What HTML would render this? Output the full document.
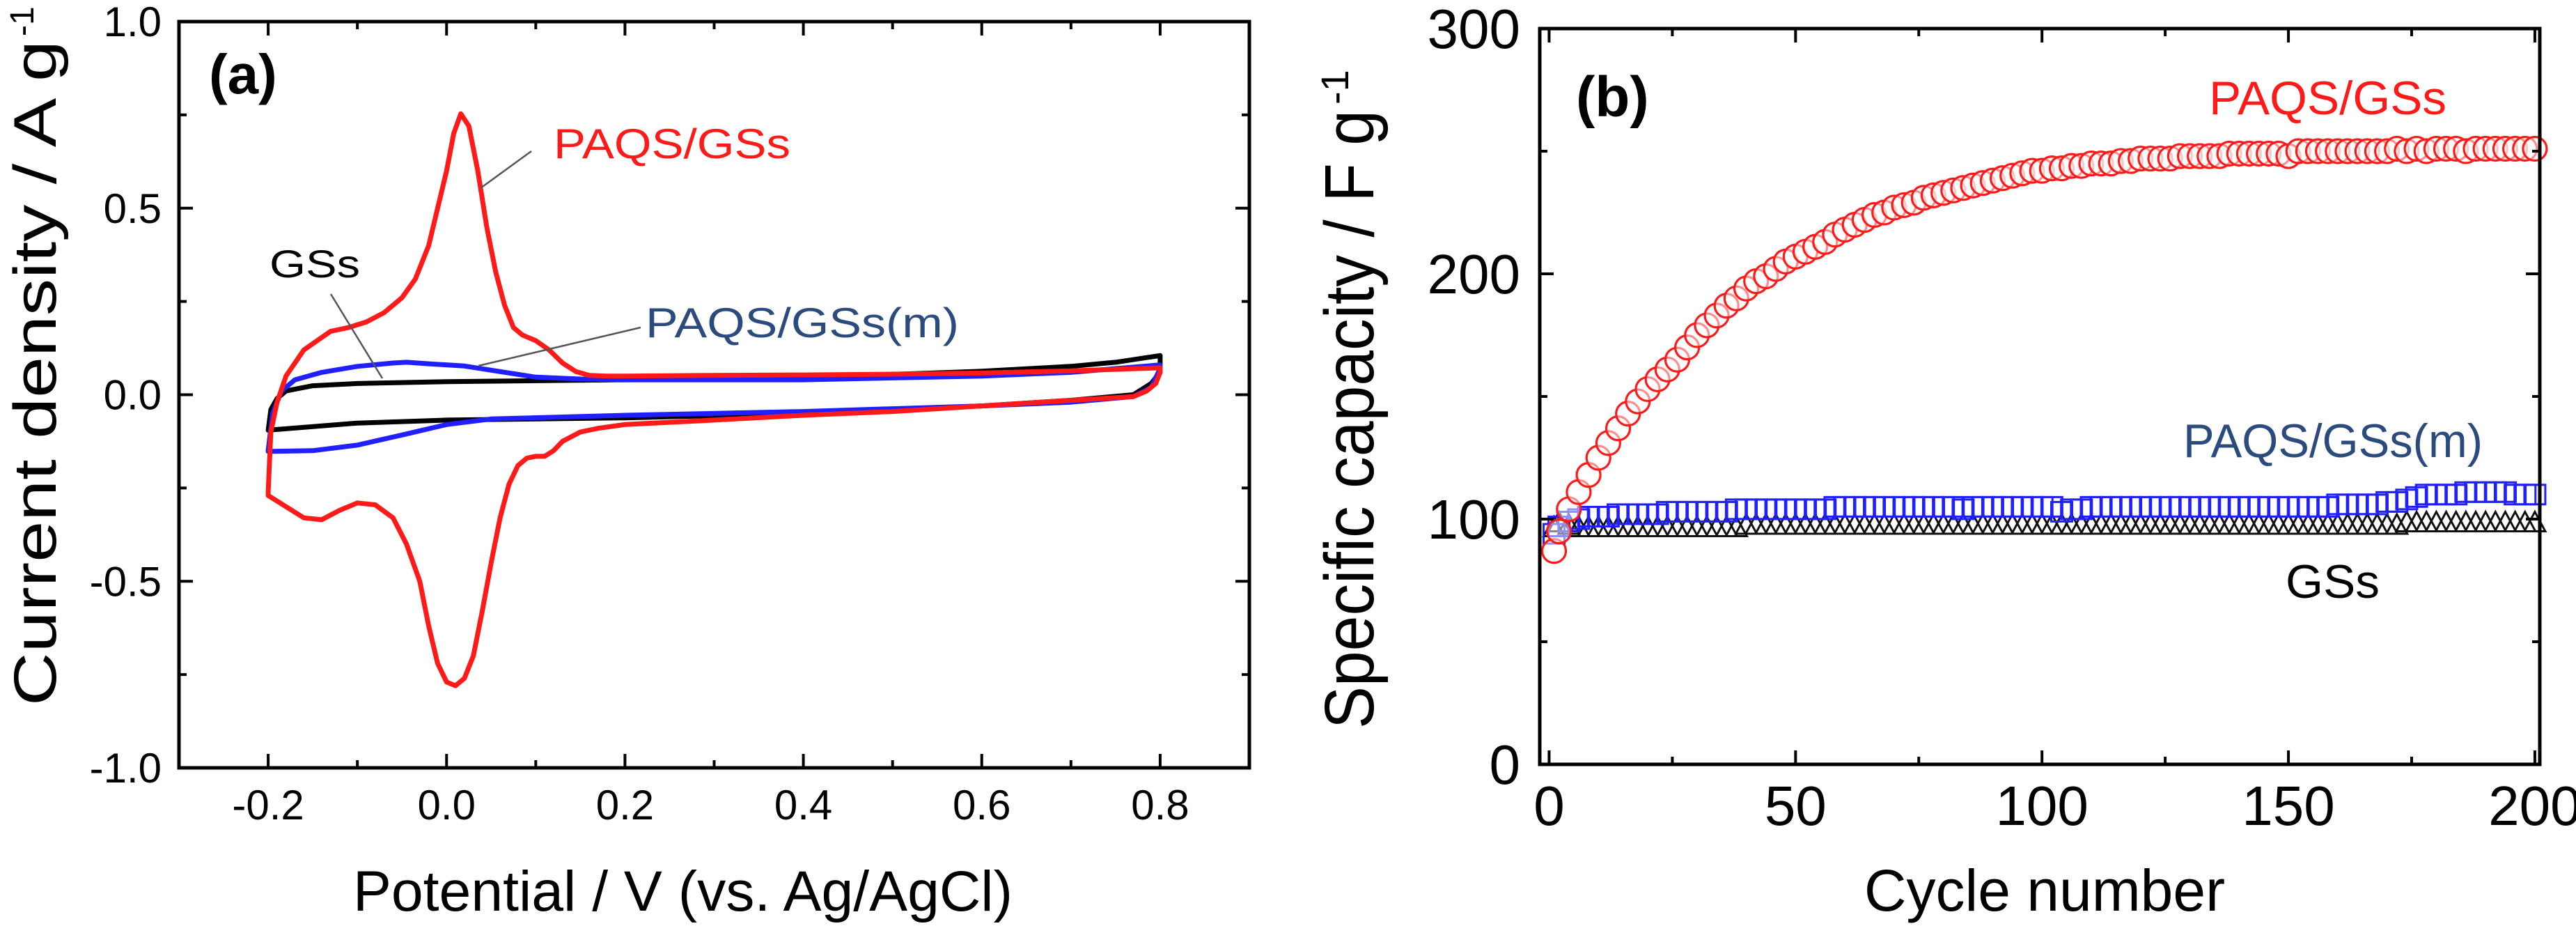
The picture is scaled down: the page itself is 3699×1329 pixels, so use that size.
<!DOCTYPE html>
<html><head><meta charset="utf-8"><style>
html,body{margin:0;padding:0;background:#fff;}
svg{display:block;font-family:"Liberation Sans",Arial,sans-serif;}
</style></head><body>
<svg id="fig" width="3699" height="1329" viewBox="0 0 3699 1329" xmlns="http://www.w3.org/2000/svg">
<rect width="3699" height="1329" fill="#fff"/>
<g id="pa"></g>
<g id="pb"></g>
</svg>
<script>
// ---------- Panel (a) data ----------
const cvRedV = [-0.2,-0.197,-0.19,-0.18,-0.16,-0.13,-0.11,-0.09,-0.07,-0.05,-0.035,-0.02,-0.01,0.0,0.008,0.016,0.025,0.035,0.045,0.055,0.065,0.075,0.085,0.1,0.115,0.13,0.145,0.16,0.18,0.2,0.3,0.4,0.5,0.6,0.7,0.8,0.8,0.795,0.785,0.77,0.7,0.6,0.5,0.4,0.3,0.2,0.17,0.15,0.13,0.12,0.11,0.1,0.09,0.08,0.07,0.06,0.05,0.04,0.03,0.02,0.01,0.0,-0.01,-0.02,-0.03,-0.045,-0.06,-0.08,-0.1,-0.12,-0.14,-0.16,-0.18,-0.2,-0.2];
const cvRedI = [-0.26,-0.1,-0.02,0.05,0.12,0.17,0.18,0.195,0.22,0.26,0.31,0.4,0.5,0.6,0.7,0.753,0.72,0.6,0.45,0.33,0.24,0.18,0.16,0.145,0.12,0.085,0.062,0.052,0.05,0.05,0.052,0.053,0.055,0.058,0.064,0.072,0.06,0.03,0.01,-0.005,-0.015,-0.03,-0.045,-0.055,-0.068,-0.08,-0.09,-0.1,-0.125,-0.15,-0.165,-0.165,-0.17,-0.19,-0.24,-0.33,-0.45,-0.58,-0.7,-0.76,-0.78,-0.77,-0.72,-0.62,-0.5,-0.4,-0.33,-0.295,-0.29,-0.31,-0.335,-0.33,-0.3,-0.27,-0.26];
const cvBlueV = [-0.2,-0.195,-0.185,-0.17,-0.14,-0.1,-0.06,-0.045,-0.02,0.02,0.06,0.1,0.15,0.2,0.4,0.6,0.7,0.8,0.8,0.79,0.77,0.7,0.6,0.4,0.2,0.05,0.0,-0.05,-0.1,-0.15,-0.2,-0.2];
const cvBlueI = [-0.15,-0.05,0.01,0.04,0.06,0.076,0.085,0.087,0.083,0.077,0.062,0.047,0.042,0.04,0.04,0.05,0.06,0.08,0.07,0.02,-0.005,-0.02,-0.03,-0.045,-0.055,-0.065,-0.08,-0.108,-0.135,-0.15,-0.152,-0.15];
const cvBlackV = [-0.2,-0.197,-0.19,-0.18,-0.15,-0.1,0.0,0.2,0.4,0.6,0.7,0.75,0.8,0.8,0.8,0.79,0.77,0.7,0.6,0.4,0.2,0.0,-0.1,-0.2,-0.2];
const cvBlackI = [-0.095,-0.04,-0.01,0.01,0.024,0.03,0.035,0.04,0.046,0.063,0.076,0.087,0.105,0.1,0.06,0.03,0.0,-0.015,-0.03,-0.05,-0.062,-0.068,-0.076,-0.095,-0.095];
const aXTicks = [-0.2,0.0,0.2,0.4,0.6,0.8];
const aXTickLabels = ["-0.2","0.0","0.2","0.4","0.6","0.8"];
const aYTicks = [-1.0,-0.5,0.0,0.5,1.0];
const aYTickLabels = ["-1.0","-0.5","0.0","0.5","1.0"];

// ---------- Panel (b) data ----------
const cycles = [1,2,4,6,8,10,12,14,16,18,20,22,24,26,28,30,32,34,36,38,40,42,44,46,48,50,52,54,56,58,60,62,64,66,68,70,72,74,76,78,80,82,84,86,88,90,92,94,96,98,100,102,104,106,108,110,112,114,116,118,120,122,124,126,128,130,132,134,136,138,140,142,144,146,148,150,152,154,156,158,160,162,164,166,168,170,172,174,176,178,180,182,184,186,188,190,192,194,196,198,200];
const capRed = [87,95,104,111,118,125,131,137,143,148,153,157,161,165,170,175,179,183,187,190,194,197,199,202,205,207,209,211,213,216,218,220,222,224,225,227,228,229,231,232,233,234,235,236,237,238,239,240,241,242,242,243,243,244,244,245,245,245,246,246,247,247,247,247,248,248,248,248,248,249,249,249,249,249,249,248,250,250,250,250,250,250,250,250,250,250,251,250,251,250,251,251,251,250,251,251,251,251,251,251,251];
const capBlue = [94,97,99,100,101,101,101,102,102,102,102,102,103,103,103,103,103,103,103,104,104,104,104,104,104,104,104,104,104,105,105,105,105,105,105,105,105,105,105,105,105,105,104,105,105,105,105,105,105,105,105,105,103,104,104,105,105,105,105,105,105,105,105,105,105,105,105,105,105,105,105,105,105,105,105,105,105,105,105,105,106,106,106,106,106,107,107,108,109,110,110,110,110,111,111,111,111,111,110,110,110];
const capBlack = [97,99,98,97,97,97,97,97,97,97,97,97,97,97,97,97,97,97,97,97,98,98,98,98,98,98,98,98,98,98,98,98,98,98,98,98,98,98,98,98,98,98,98,98,98,98,98,98,98,98,98,98,98,98,98,98,98,98,98,98,98,98,98,98,98,98,98,98,98,98,98,98,98,98,98,98,98,98,98,98,98,98,98,98,98,98,98,99,99,99,99,99,99,99,99,99,99,99,99,99,99];
const bXTicks = [0,50,100,150,200];
const bXTickLabels = ["0","50","100","150","200"];
const bYTicks = [0,100,200,300];
const bYTickLabels = ["0","100","200","300"];

const NS = "http://www.w3.org/2000/svg";
function mk(parent, tag, attrs){ const e=document.createElementNS(NS,tag); for(const k in attrs) e.setAttribute(k,attrs[k]); parent.appendChild(e); return e; }

// ---------- Panel (a) ----------
const pa = document.getElementById('pa');
const A = {l:257,r:1794,t:31,b:1102,x0:-0.3,x1:0.9,y0:-1,y1:1};
const ax = v => A.l + (v-A.x0)/(A.x1-A.x0)*(A.r-A.l);
const ay = v => A.b - (v-A.y0)/(A.y1-A.y0)*(A.b-A.t);

function curve(vs, is, color, name){
  let d='';
  for(let k=0;k<vs.length;k++){ d += (k?'L':'M')+ax(vs[k]).toFixed(1)+','+ay(is[k]).toFixed(1); }
  const p = mk(pa,'path',{d:d,fill:'none',stroke:color,'stroke-width':7,'stroke-linejoin':'round','stroke-linecap':'round'});
  
  
}
curve(cvBlackV, cvBlackI, '#000', 'cv-curve-gss');
curve(cvBlueV, cvBlueI, '#1f1fff', 'cv-curve-paqs-gss-m');
curve(cvRedV, cvRedI, '#ff1a1a', 'cv-curve-paqs-gss');

const fa = mk(pa,'rect',{x:A.l,y:A.t,width:A.r-A.l,height:A.b-A.t,fill:'none',stroke:'#000','stroke-width':5});


for(let v=-0.3; v<=0.9001; v+=0.1){
  const major = aXTicks.some(t=>Math.abs(t-v)<1e-6);
  const L = major?20:11, x=ax(v);
  if (Math.abs(v+0.3)<1e-6 || Math.abs(v-0.9)<1e-6) continue;
  mk(pa,'line',{x1:x,y1:A.b,x2:x,y2:A.b-L,stroke:'#000','stroke-width':4});
  mk(pa,'line',{x1:x,y1:A.t,x2:x,y2:A.t+L,stroke:'#000','stroke-width':4});
}
for(let v=-0.75; v<=0.7501; v+=0.25){
  const major = aYTicks.some(t=>Math.abs(t-v)<1e-6);
  const L = major?20:11, y=ay(v);
  mk(pa,'line',{x1:A.l,y1:y,x2:A.l+L,y2:y,stroke:'#000','stroke-width':4});
  mk(pa,'line',{x1:A.r,y1:y,x2:A.r-L,y2:y,stroke:'#000','stroke-width':4});
}
aXTicks.forEach((t,k)=>{
  const e = mk(pa,'text',{x:ax(t),y:1176,'font-size':60,'text-anchor':'middle',fill:'#000'});
  e.textContent = aXTickLabels[k];
  
  
});
aYTicks.forEach((t,k)=>{
  const e = mk(pa,'text',{x:232,y:ay(t)+21,'font-size':60,'text-anchor':'end',fill:'#000'});
  e.textContent = aYTickLabels[k];
  
  
});

// ---------- Panel (b) ----------
const pb = document.getElementById('pb');
const B = {l:2211,r:3647,t:41,b:1097,x0:-1.9,x1:201,y0:0,y1:300};
const bx = v => B.l + (v-B.x0)/(B.x1-B.x0)*(B.r-B.l);
const by = v => B.b - (v-B.y0)/(B.y1-B.y0)*(B.b-B.t);

cycles.forEach((c,k)=>{
  const x=bx(c), y=by(capBlack[k]);
  const t = mk(pb,'path',{d:`M${x-15},${y+14}L${x},${y-14}L${x+15},${y+14}Z`,fill:'none',stroke:'#111','stroke-width':3});
  
  
});
cycles.forEach((c,k)=>{
  const x=bx(c), y=by(capBlue[k]);
  const s = mk(pb,'rect',{x:x-15,y:y-14,width:30,height:28,fill:'none',stroke:'#1f1fff','stroke-width':3});
  
  
});
cycles.forEach((c,k)=>{
  const x=bx(c), y=by(capRed[k]);
  const o = mk(pb,'circle',{cx:x,cy:y,r:17,fill:'#fff','fill-opacity':0.5,stroke:'#ff1a1a','stroke-width':3.2});
  
  
});

const fb = mk(pb,'rect',{x:B.l,y:B.t,width:B.r-B.l,height:B.b-B.t,fill:'none',stroke:'#000','stroke-width':5});


for(let v=0; v<=200; v+=25){
  const major = v%50===0, L = major?20:11, x=bx(v);
  mk(pb,'line',{x1:x,y1:B.b,x2:x,y2:B.b-L,stroke:'#000','stroke-width':4});
  mk(pb,'line',{x1:x,y1:B.t,x2:x,y2:B.t+L,stroke:'#000','stroke-width':4});
}
for(let v=50; v<300; v+=50){
  const major = v%100===0, L = major?20:11, y=by(v);
  mk(pb,'line',{x1:B.l,y1:y,x2:B.l+L,y2:y,stroke:'#000','stroke-width':4});
  mk(pb,'line',{x1:B.r,y1:y,x2:B.r-L,y2:y,stroke:'#000','stroke-width':4});
}
bXTicks.forEach((t,k)=>{
  const e = mk(pb,'text',{x:bx(t),y:1184,'font-size':80,'text-anchor':'middle',fill:'#000'});
  e.textContent = bXTickLabels[k];
  
  
});
bYTicks.forEach((t,k)=>{
  const e = mk(pb,'text',{x:2183,y:by(t)+28,'font-size':80,'text-anchor':'end',fill:'#000'});
  e.textContent = bYTickLabels[k];
  
  
});
</script>
<svg style="position:absolute;left:0;top:0" width="3699" height="1329" viewBox="0 0 3699 1329" xmlns="http://www.w3.org/2000/svg" font-family="Liberation Sans, Arial, sans-serif">
  <text x="300" y="134" font-size="80" font-weight="bold">(a)</text>
  <text x="507" y="1307" font-size="82" textLength="947" lengthAdjust="spacingAndGlyphs">Potential / V (vs. Ag/AgCl)</text>
  <text transform="translate(80,1013) rotate(-90)" font-size="86" textLength="955" lengthAdjust="spacingAndGlyphs">Current density / A g</text>
  <text transform="translate(48,52) rotate(-90)" font-size="48">-1</text>
  <text x="795" y="227" font-size="60" fill="#ff1a1a" textLength="340" lengthAdjust="spacingAndGlyphs">PAQS/GSs</text>
  <line x1="690" y1="270" x2="763" y2="217" stroke="#555" stroke-width="2.5"/>
  <text x="387" y="398" font-size="56" fill="#000" textLength="130" lengthAdjust="spacingAndGlyphs">GSs</text>
  <line x1="475" y1="422" x2="549" y2="543" stroke="#555" stroke-width="2.5"/>
  <text x="927" y="484" font-size="60" fill="#2b4a7e" textLength="450" lengthAdjust="spacingAndGlyphs">PAQS/GSs(m)</text>
  <line x1="687" y1="525" x2="920" y2="470" stroke="#555" stroke-width="2.5"/>
  <text x="2263" y="167" font-size="82" font-weight="bold">(b)</text>
  <text x="2936" y="1307" font-size="84" text-anchor="middle">Cycle number</text>
  <text transform="translate(1972,1046) rotate(-90)" font-size="100" textLength="888" lengthAdjust="spacingAndGlyphs">Specific capacity / F g</text>
  <text transform="translate(1936,150) rotate(-90)" font-size="56">-1</text>
  <text x="3172" y="164" font-size="68" fill="#ff1a1a" textLength="341" lengthAdjust="spacingAndGlyphs">PAQS/GSs</text>
  <text x="3135" y="656" font-size="68" fill="#2b4a7e" textLength="430" lengthAdjust="spacingAndGlyphs">PAQS/GSs(m)</text>
  <text x="3282" y="858" font-size="68" fill="#000" textLength="135" lengthAdjust="spacingAndGlyphs">GSs</text>
</svg>
</body></html>
